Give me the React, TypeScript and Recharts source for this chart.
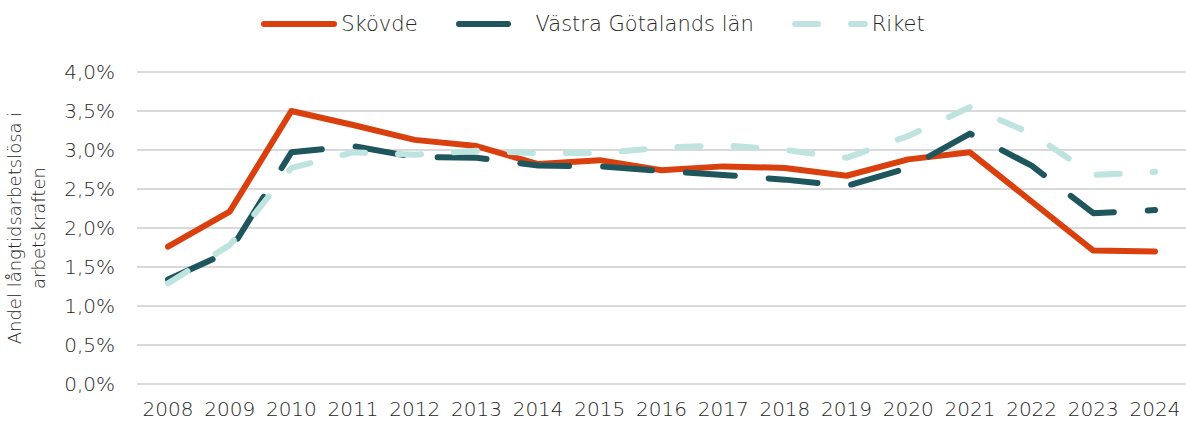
import { LineChart, Line, XAxis, YAxis, CartesianGrid, Legend } from "recharts";

const years = [
  "2008", "2009", "2010", "2011", "2012", "2013", "2014", "2015", "2016",
  "2017", "2018", "2019", "2020", "2021", "2022", "2023", "2024",
];
const skovde = [1.76, 2.21, 3.5, 3.32, 3.13, 3.05, 2.82, 2.87, 2.74, 2.79, 2.77, 2.67, 2.88, 2.97, 2.34, 1.71, 1.7];
const vastra = [1.34, 1.7, 2.97, 3.05, 2.91, 2.9, 2.8, 2.79, 2.73, 2.68, 2.62, 2.54, 2.77, 3.21, 2.8, 2.19, 2.23];
const riket = [1.29, 1.78, 2.77, 2.97, 2.94, 2.99, 2.96, 2.96, 3.03, 3.06, 3.0, 2.9, 3.18, 3.55, 3.21, 2.68, 2.72];
const yTicks = [0, 0.5, 1, 1.5, 2, 2.5, 3, 3.5, 4];

const data = years.map((year, i) => ({
  year,
  skovde: skovde[i],
  vastra: vastra[i],
  riket: riket[i],
}));

const FONT = "'DejaVu Sans', sans-serif";
const TEXT = "#262626";

const series = [
  { key: "skovde", name: "Skövde", color: "#D9400E", dash: undefined },
  { key: "vastra", name: "Västra Götalands län", color: "#1F555C", dash: "49 34" },
  { key: "riket", name: "Riket", color: "#BFE4E0", dash: "23 33" },
];

const pct = (v: number) => v.toFixed(1).replace(".", ",") + "%";

function LegendBox() {
  return (
    <div style={{ display: "flex", justifyContent: "center", alignItems: "center", gap: 38 }}>
      {series.map((s) => (
        <div key={s.key} style={{ display: "flex", alignItems: "center" }}>
          <svg width={76} height={12}>
            <line
              x1={3}
              y1={6}
              x2={73}
              y2={6}
              stroke={s.color}
              strokeWidth={6}
              strokeLinecap="round"
              strokeDasharray={s.dash}
            />
          </svg>
          <span
            style={{
              marginLeft: 4,
              fontFamily: FONT,
              fontWeight: 200,
              fontSize: 21,
              color: TEXT,
            }}
          >
            {s.name}
          </span>
        </div>
      ))}
    </div>
  );
}

function YLabel(props: any) {
  const vb = props.viewBox || {};
  const cy = (vb.y ?? 72) + (vb.height ?? 312) / 2;
  return (
    <g fontFamily={FONT} fontWeight={200} fontSize={18} fill={TEXT}>
      <text x={0} y={0} textAnchor="middle" transform={`translate(21, ${cy}) rotate(-90)`}>
        Andel långtidsarbetslösa i
      </text>
      <text x={0} y={0} textAnchor="middle" transform={`translate(45, ${cy}) rotate(-90)`}>
        arbetskraften
      </text>
    </g>
  );
}

export default function App() {
  return (
    <div style={{ position: "absolute", left: 0, top: 0, width: 1186, height: 423, background: "#fff" }}>
      <LineChart width={1186} height={423} data={data} margin={{ top: 72, right: 0, bottom: 0, left: 0 }}>
        <CartesianGrid vertical={false} stroke="#D9D9D9" strokeWidth={2} />
        <XAxis
          dataKey="year"
          axisLine={false}
          tickLine={false}
          height={39}
          tickMargin={12}
          interval={0}
          padding={{ left: 31, right: 31 }}
          tick={{ fontFamily: FONT, fontWeight: 200, fontSize: 20, fill: TEXT }}
        />
        <YAxis
          domain={[0, 4]}
          ticks={yTicks}
          width={137}
          axisLine={false}
          tickLine={false}
          tickMargin={16}
          tickFormatter={pct}
          tick={{ fontFamily: FONT, fontWeight: 200, fontSize: 20, fill: TEXT }}
          label={{ content: (p: any) => <YLabel {...p} /> }}
        />
        <Legend
          layout="horizontal"
          verticalAlign="middle"
          align="center"
          wrapperStyle={{ top: 12, left: 0, width: 1186 }}
          content={() => <LegendBox />}
        />
        {series.map((s) => (
          <Line
            key={s.key}
            type="linear"
            dataKey={s.key}
            name={s.name}
            stroke={s.color}
            strokeWidth={6}
            strokeLinecap="round"
            strokeLinejoin="round"
            strokeDasharray={s.dash}
            dot={false}
            activeDot={false}
            isAnimationActive={false}
          />
        ))}
      </LineChart>
    </div>
  );
}
